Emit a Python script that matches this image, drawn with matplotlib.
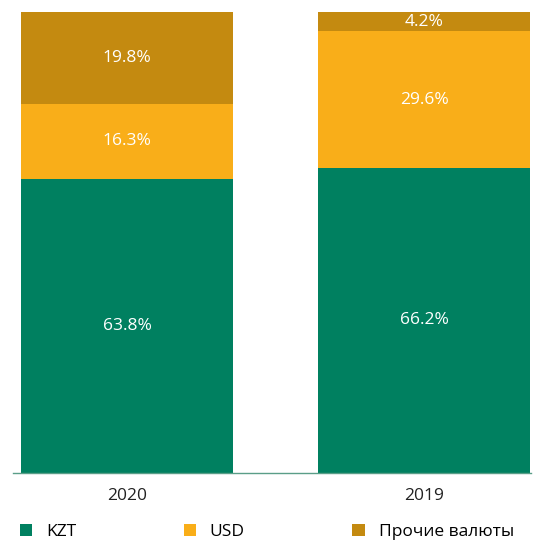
import matplotlib.pyplot as plt
import numpy as np

years = ["2020", "2019"]
kzt = [63.8, 66.2]
usd = [16.3, 29.6]
other = [19.8, 4.2]
series_names = ["KZT", "USD", "Прочие валюты"]
colors = ["#008060", "#F9AE19", "#C48A10"]

plt.rcParams['font.family'] = ['Open Sans', 'DejaVu Sans']

fig = plt.figure(figsize=(5.47, 5.44), dpi=100)
ax = fig.add_axes([13 / 547, 71 / 544, 518 / 547, 461 / 544])

x = np.arange(len(years))
bottom = np.zeros(len(years))
handles = []
for vals, col, name in zip([kzt, usd, other], colors, series_names):
    bars = ax.bar(x, vals, 0.714, bottom=bottom, color=col, label=name)
    handles.append(bars)
    for xi, b, v in zip(x, bottom, vals):
        ax.text(xi, b + v / 2, f"{v:.1f}%", ha="center", va="center",
                color="white", fontsize=12.5)
    bottom += np.array(vals)

ax.set_xlim(-0.384, 1.36)
ax.set_ylim(0, 100)
ax.set_xticks(x)
ax.set_xticklabels(years, fontsize=12.5, color="#222222")
ax.tick_params(axis="x", length=0, pad=11)
ax.set_yticks([])
for s in ["top", "right", "left"]:
    ax.spines[s].set_visible(False)
ax.spines["bottom"].set_color("#5a9e88")
ax.spines["bottom"].set_linewidth(1)

fig.legend(handles=handles, labels=series_names, loc="center left",
           bbox_to_anchor=(20 / 547, 12 / 544), ncol=3, frameon=False,
           fontsize=12.5, handlelength=0.7, handleheight=0.7,
           handletextpad=0.8, columnspacing=6.2, borderaxespad=0,
           borderpad=0)

fig.savefig("out.png", dpi=100)
